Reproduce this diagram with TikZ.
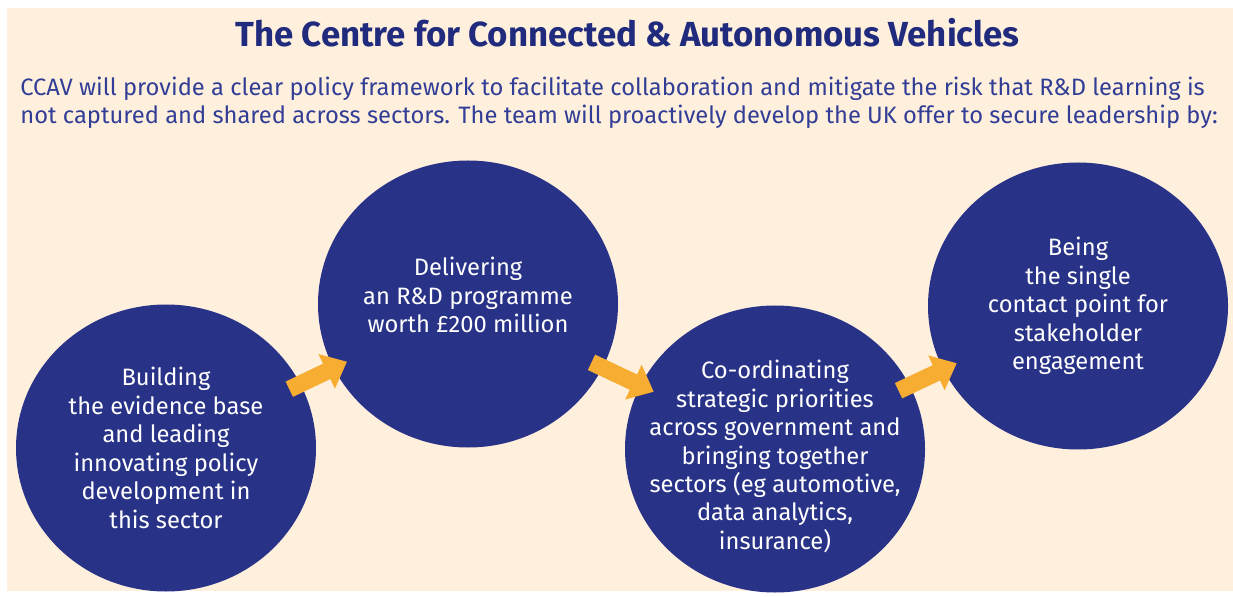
\documentclass[tikz,border=0pt]{standalone}
\usepackage{fontspec}
\setmainfont{Fira Sans}
\usepackage{tikz}
\usetikzlibrary{shapes.geometric, arrows.meta}
\definecolor{navy1}{RGB}{40, 50, 135}
\definecolor{titleblue}{RGB}{33, 43, 125}
\definecolor{textblue}{RGB}{50, 62, 150}
\definecolor{amber1}{RGB}{247, 172, 50}
\definecolor{cream}{RGB}{254, 240, 221}

\begin{document}
\begin{tikzpicture}[
  disc/.style={ellipse, fill=navy1, minimum width=6cm, minimum height=5.74cm, inner sep=0pt},
  disctext/.style={text=white, align=center, font=\fontsize{13.5}{16.2}\selectfont},
  flow/.style={amber1, line width=0.34cm, -{Triangle[width=0.74cm, length=0.45cm]},
    shorten <=-0.25cm, shorten >=-0.3cm},
]
\useasboundingbox (0,0) rectangle (24.66,11.92);
\fill[cream] (0.14,0.1) rectangle (24.66,11.76);

% Heading and intro
\node[font=\fontsize{19.8}{24}\selectfont\bfseries, titleblue] (title) at (12.55, 11.26)
{The Centre for Connected \& Autonomous Vehicles};
\node[anchor=west, inner sep=0pt, align=left, textblue, font=\fontsize{13.5}{15.9}\selectfont] (intro) at (0.4, 9.86)
{CCAV will provide a clear policy framework to facilitate collaboration and mitigate the risk that R\&D learning is\\
not captured and shared across sectors. The team will proactively develop the UK offer to secure leadership by:};

% Four steps
\node[disc] (build) at (3.32, 2.96) {};
\node[disc] (deliver) at (9.36, 5.84) {};
\node[disc] (coord) at (15.5, 2.94) {};
\node[disc] (contact) at (21.56, 5.8) {};

\node[disctext] (build-t) at (build)
{Building\\the evidence base\\and leading\\innovating policy\\development in\\this sector};
\node[disctext] (deliver-t) at ([yshift=0.18cm]deliver.center)
{Delivering\\an R\&D programme\\worth £200 million};
\node[disctext] (coord-t) at ([yshift=-0.15cm]coord.center)
{Co-ordinating\\strategic priorities\\across government and\\bringing together\\sectors (eg automotive,\\data analytics,\\insurance)};
\node[disctext] (contact-t) at (contact)
{Being\\the single\\contact point for\\stakeholder\\engagement};

% Arrows between the steps
\draw[flow] (build) -- (deliver);
\draw[flow] (deliver) -- (coord);
\draw[flow] (coord) -- (contact);
\end{tikzpicture}
\end{document}
